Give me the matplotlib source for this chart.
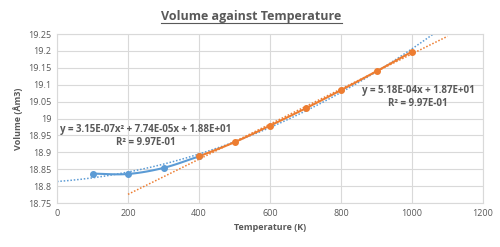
import numpy as np
import matplotlib
matplotlib.use("Agg")
import matplotlib.pyplot as plt
from matplotlib.lines import Line2D

# data
temp_all = [100, 200, 300, 400, 500, 600, 700, 800, 900, 1000]
vol_all = [18.837, 18.836, 18.854, 18.888, 18.930, 18.979, 19.030, 19.084, 19.140, 19.198]
temp_hi = [400, 500, 600, 700, 800, 900, 1000]
vol_hi = [18.888, 18.930, 18.979, 19.030, 19.084, 19.140, 19.198]

poly_label = "y = 3.15E-07x² + 7.74E-05x + 1.88E+01\nR² = 9.97E-01"
lin_label = "y = 5.18E-04x + 1.87E+01\nR² = 9.97E-01"

BLUE = "#5B9BD5"
ORANGE = "#ED7D31"
TXT = "#595959"
GRID = "#D9D9D9"


def smooth(xs, ys, n=20):
    # catmull-rom style smoothing, like excel "smoothed line"
    xs = np.asarray(xs, float); ys = np.asarray(ys, float)
    px = np.concatenate([[2 * xs[0] - xs[1]], xs, [2 * xs[-1] - xs[-2]]])
    py = np.concatenate([[2 * ys[0] - ys[1]], ys, [2 * ys[-1] - ys[-2]]])
    ox, oy = [], []
    for i in range(1, len(px) - 2):
        t = np.linspace(0, 1, n)
        for p, o in ((px, ox), (py, oy)):
            p0, p1, p2, p3 = p[i - 1], p[i], p[i + 1], p[i + 2]
            o.extend(0.5 * ((2 * p1) + (-p0 + p2) * t + (2 * p0 - 5 * p1 + 4 * p2 - p3) * t ** 2
                            + (-p0 + 3 * p1 - 3 * p2 + p3) * t ** 3))
    return ox, oy


plt.rcParams["font.family"] = ["Open Sans", "DejaVu Sans"]
NARROW = ["Liberation Sans Narrow", "Open Sans", "DejaVu Sans"]
fig = plt.figure(figsize=(5, 2.47), dpi=100)
ax = fig.add_axes([0.114, 0.178, 0.852, 0.684])

# trendlines
cp = np.polyfit(temp_all, vol_all, 2)
tx = np.linspace(0, 1100, 200)
ax.plot(tx, np.polyval(cp, tx), ls=(0, (1, 1.2)), color=BLUE, lw=1.1, zorder=2)
cl = np.polyfit(temp_hi, vol_hi, 1)
lx = np.linspace(200, 1100, 50)
ax.plot(lx, np.polyval(cl, lx), ls=(0, (1, 1.2)), color=ORANGE, lw=1.1, zorder=2)

sx, sy = smooth(temp_all[:4], vol_all[:4])
ax.plot(sx, sy, color=BLUE, lw=1.5, zorder=3)
ax.plot(temp_all[:4], vol_all[:4], "o", color=BLUE, ms=4, zorder=4)
sx, sy = smooth(temp_hi, vol_hi)
ax.plot(sx, sy, color=ORANGE, lw=1.5, zorder=3)
ax.plot(temp_hi, vol_hi, "o", color=ORANGE, ms=4, zorder=4)

ax.set_xlim(0, 1200)
ax.set_ylim(18.75, 19.25)
ax.set_xticks(np.arange(0, 1201, 200))
ax.set_yticks(np.arange(18.75, 19.2501, 0.05))
ax.set_yticklabels(["18.75", "18.8", "18.85", "18.9", "18.95", "19", "19.05", "19.1", "19.15", "19.2", "19.25"])
ax.grid(True, color=GRID, lw=0.8)
ax.set_axisbelow(True)
for s in ax.spines.values():
    s.set_color(GRID)
ax.tick_params(length=0, labelsize=6.5, colors=TXT, pad=4)

ax.set_xlabel("Temperature (K)", fontsize=6.5, fontweight="bold", color=TXT, labelpad=4)
ax.set_ylabel("Volume (Åm3)", fontsize=6.5, fontweight="bold", color=TXT, labelpad=4)

ax.text(250, 18.948, poly_label, fontsize=7, fontweight="bold", color=TXT, family=NARROW,
        ha="center", va="center", multialignment="center", linespacing=1.2)
ax.text(1017, 19.064, lin_label, fontsize=7, fontweight="bold", color=TXT, family=NARROW,
        ha="center", va="center", multialignment="center", linespacing=1.2)

title = fig.text(0.503, 0.92, "Volume against Temperature", fontsize=9, fontweight="bold",
                 color=TXT, ha="center", va="baseline")
fig.canvas.draw()
bb = title.get_window_extent(fig.canvas.get_renderer()).transformed(fig.transFigure.inverted())
fig.lines.append(Line2D([bb.x0, bb.x1], [0.905, 0.905], color=TXT, lw=0.8, transform=fig.transFigure))

fig.savefig("out.png", dpi=100, facecolor="white")
